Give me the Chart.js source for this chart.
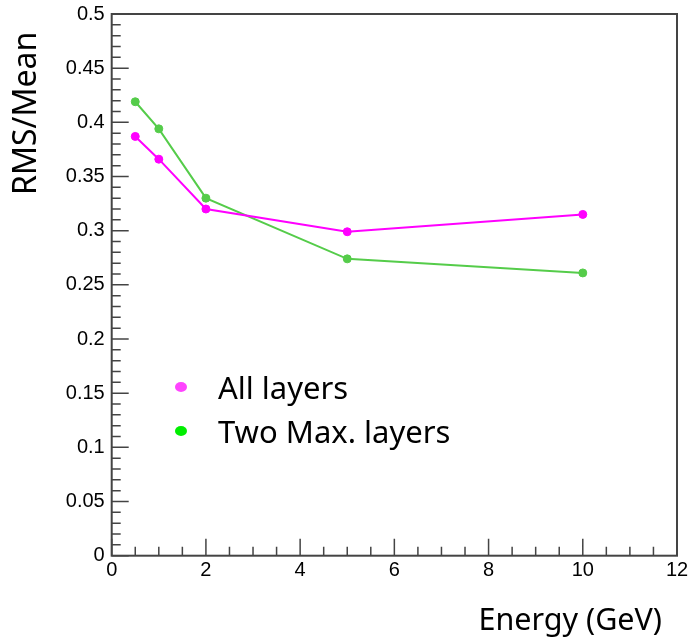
<!DOCTYPE html>
<html>
<head>
<meta charset="utf-8">
<script src="https://cdn.jsdelivr.net/npm/chart.js@4"></script>
<style>
  body { margin: 0; background: #fff; }
  #wrap { width: 688px; height: 641px; }
</style>
</head>
<body>
<div id="wrap"><canvas id="rmsChart" width="688" height="641"></canvas></div>
<script>
// Dados
const energies = [0.5, 1, 2, 5, 10];
const allLayers = [0.387, 0.366, 0.320, 0.299, 0.315];
const twoMaxLayers = [0.419, 0.394, 0.330, 0.274, 0.261];
const seriesNames = ['All layers', 'Two Max. layers'];
const xTitle = 'Energy (GeV)';
const yTitle = 'RMS/Mean';

document.addEventListener('DOMContentLoaded', function() {

    const tickFont = { family: '"Liberation Sans", Arial, sans-serif', size: 20 };
    const textFamily = '"Noto Sans", "Open Sans", sans-serif';
    const axisColor = '#444';

    function toPoints(xs, ys) {
        return xs.map((x, i) => ({ x: x, y: ys[i] }));
    }

    function isMultiple(v, step) {
        const r = v / step;
        return Math.abs(r - Math.round(r)) < 1e-6;
    }

    // Moldura e marcas de escala (para dentro, estilo ROOT)
    const frameTicks = {
        id: 'frameTicks',
        beforeDatasetsDraw(chart) {
            const { ctx, chartArea: a, scales } = chart;
            ctx.save();
            ctx.strokeStyle = axisColor;
            ctx.lineWidth = 2;
            ctx.strokeRect(a.left, a.top, a.right - a.left, a.bottom - a.top);

            ctx.lineWidth = 1.5;
            ctx.beginPath();
            scales.y.ticks.forEach(t => {
                const py = scales.y.getPixelForValue(t.value);
                const len = isMultiple(t.value, 0.05) ? 17 : 9;
                ctx.moveTo(a.left, py);
                ctx.lineTo(a.left + len, py);
            });
            scales.x.ticks.forEach(t => {
                const px = scales.x.getPixelForValue(t.value);
                const len = isMultiple(t.value, 2) ? 17 : 9;
                ctx.moveTo(px, a.bottom);
                ctx.lineTo(px, a.bottom - len);
            });
            ctx.stroke();
            ctx.restore();
        },
        afterDraw(chart) {
            const { ctx } = chart;
            ctx.save();
            ctx.fillStyle = '#000';
            ctx.textBaseline = 'alphabetic';

            // títulos dos eixos
            ctx.font = '30.5px ' + textFamily;
            ctx.textAlign = 'right';
            ctx.fillText(xTitle, 662, 630);

            ctx.save();
            ctx.font = '32px ' + textFamily;
            ctx.translate(36, 195);
            ctx.rotate(-Math.PI / 2);
            ctx.textAlign = 'left';
            ctx.fillText(yTitle, 0, 0);
            ctx.restore();

            // legenda
            ctx.font = '31px ' + textFamily;
            const legendColors = ['#ff44ff', '#00ee00'];
            const rows = [{ my: 387, base: 399 }, { my: 431, base: 443 }];
            ctx.textAlign = 'left';
            chart.data.datasets.forEach((ds, i) => {
                ctx.fillStyle = legendColors[i];
                ctx.beginPath();
                ctx.ellipse(181, rows[i].my, 6, 5, 0, 0, Math.PI * 2);
                ctx.fill();
                ctx.fillStyle = '#000';
                ctx.fillText(ds.label, 218, rows[i].base);
            });
            ctx.restore();
        }
    };

    const ctx = document.getElementById('rmsChart').getContext('2d');

    new Chart(ctx, {
        type: 'scatter',
        data: {
            datasets: [{
                label: seriesNames[0],
                data: toPoints(energies, allLayers),
                showLine: true,
                borderColor: '#ff00ff',
                backgroundColor: '#ff00ff',
                borderWidth: 2,
                pointRadius: 4,
                pointBorderWidth: 1
            }, {
                label: seriesNames[1],
                data: toPoints(energies, twoMaxLayers),
                showLine: true,
                borderColor: '#55cc4a',
                backgroundColor: '#55cc4a',
                borderWidth: 2,
                pointRadius: 4,
                pointBorderWidth: 1
            }]
        },
        options: {
            responsive: false,
            animation: false,
            devicePixelRatio: 1,
            layout: { padding: { top: 14, right: 11, left: 0, bottom: 0 } },
            plugins: {
                legend: { display: false },
                tooltip: { enabled: false }
            },
            scales: {
                x: {
                    type: 'linear',
                    min: 0,
                    max: 12,
                    grid: { display: false, drawTicks: false },
                    border: { display: false },
                    ticks: {
                        stepSize: 0.5,
                        autoSkip: false,
                        maxRotation: 0,
                        padding: 3,
                        color: '#000',
                        font: tickFont,
                        callback: v => isMultiple(v, 2) ? String(Math.round(v)) : ''
                    },
                    afterFit: scale => {
                        scale.height = 85.3;
                        scale.paddingLeft = 0;
                        scale.paddingRight = 0;
                    }
                },
                y: {
                    min: 0,
                    max: 0.5,
                    grid: { display: false, drawTicks: false },
                    border: { display: false },
                    ticks: {
                        stepSize: 0.01,
                        autoSkip: false,
                        padding: 7,
                        color: '#000',
                        font: tickFont,
                        callback: v => isMultiple(v, 0.05) ? String(Math.round(v * 100) / 100) : ''
                    },
                    afterFit: scale => {
                        scale.width = 111.7;
                        scale.paddingTop = 0;
                        scale.paddingBottom = 0;
                    }
                }
            }
        },
        plugins: [frameTicks]
    });
});
</script>
</body>
</html>
